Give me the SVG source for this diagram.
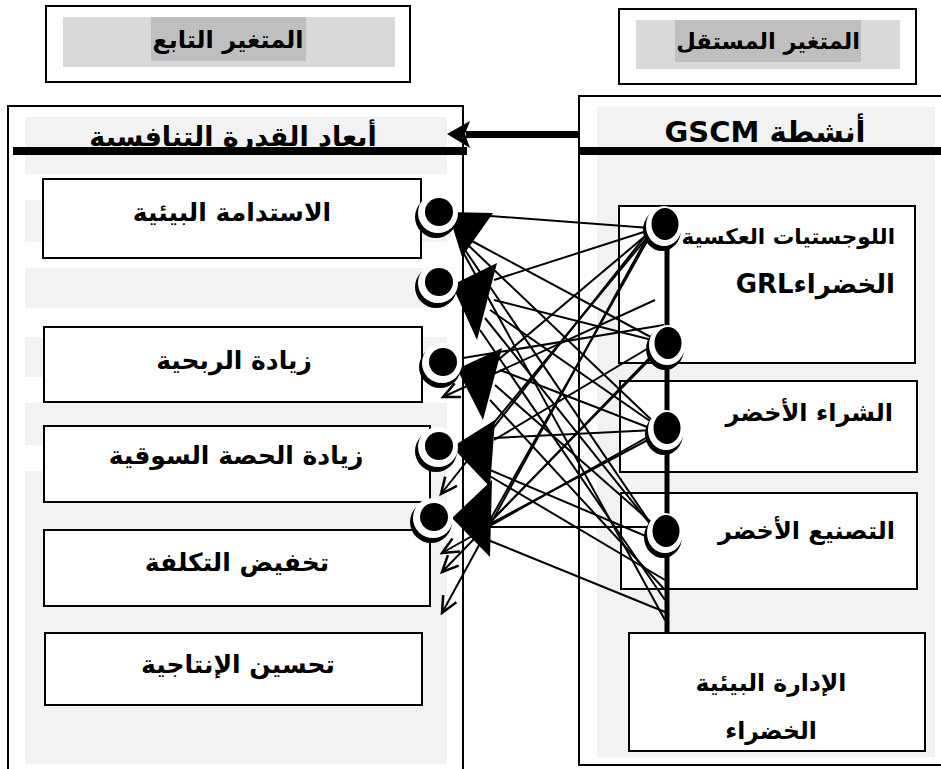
<svg xmlns="http://www.w3.org/2000/svg" xmlns:xlink="http://www.w3.org/1999/xlink" width="941" height="769" viewBox="0 0 941 769">
<style>
.box{fill:#fff;stroke:#000;stroke-width:2}
.band{fill:#f2f2f2}
.hb{fill:#d9d9d9}
.hl{fill:#bfbfbf}
.ar{font-family:"DejaVu Sans",sans-serif;font-weight:bold;fill:#000}
.conn line{stroke:#000;stroke-width:2}
</style>
<defs>
<marker id="open" markerUnits="userSpaceOnUse" markerWidth="20" markerHeight="20" refX="14" refY="7" orient="auto" viewBox="0 0 16 14">
<path d="M1,1 L14,7 L1,13" fill="none" stroke="#000" stroke-width="2"/>
</marker>
<g id="dotL"><circle cx="-2" cy="4" r="21" fill="#000"/><circle cx="0" cy="0" r="20" fill="#fff"/><circle cx="1" cy="-1" r="14" fill="#000"/></g>
<g id="dotR"><ellipse cx="-2" cy="4" rx="19" ry="21" fill="#000"/><ellipse cx="0" cy="0" rx="18" ry="20" fill="#fff"/><ellipse cx="1" cy="-2" rx="13.5" ry="16" fill="#000"/></g>
</defs>

<g id="hdr-dep">
<rect class="box" x="46" y="6" width="364" height="76"/>
<rect class="hb" x="63" y="17" width="332" height="50"/>
<rect class="hl" x="151" y="17" width="155" height="44"/>
<text class="ar" x="228" y="48" font-size="24" text-anchor="middle">المتغير التابع</text>
</g>
<g id="hdr-ind">
<rect class="box" x="619" y="9" width="297" height="75"/>
<rect class="hb" x="636" y="20" width="264" height="49"/>
<rect class="hl" x="675" y="20" width="186" height="42"/>
<text class="ar" x="768" y="49" font-size="22.5" text-anchor="middle">المتغير المستقل</text>
</g>

<g id="dep-panel">
<rect class="box" x="8" y="106" width="455" height="670"/>
<rect class="band" x="25" y="117" width="422" height="57"/>
<rect class="band" x="25" y="200" width="422" height="42"/>
<rect class="band" x="25" y="268" width="422" height="40"/>
<rect class="band" x="25" y="337" width="422" height="40"/>
<rect class="band" x="25" y="403" width="422" height="42"/>
<rect class="band" x="25" y="471" width="422" height="293"/>
<text class="ar" x="233" y="146" font-size="27" text-anchor="middle">أبعاد القدرة التنافسية</text>
<rect x="13" y="147" width="454" height="8" fill="#000"/>
</g>
<g id="ind-panel">
<rect class="box" x="579" y="96" width="400" height="669"/>
<rect class="band" x="597" y="107" width="338" height="650"/>
<text class="ar" x="765" y="142" font-size="29" text-anchor="middle" direction="rtl">أنشطة GSCM</text>
<rect x="580" y="147" width="361" height="8" fill="#000"/>
</g>

<g id="dep1"><rect class="box" x="43" y="179" width="378" height="79"/><text class="ar" x="232" y="221" font-size="25" text-anchor="middle">الاستدامة البيئية</text></g>
<g id="dep2"><rect class="box" x="44" y="327" width="378" height="75"/><text class="ar" x="234" y="369" font-size="25" text-anchor="middle">زيادة الربحية</text></g>
<g id="dep3"><rect class="box" x="44" y="426" width="386" height="76"/><text class="ar" x="236" y="464" font-size="25" text-anchor="middle">زيادة الحصة السوقية</text></g>
<g id="dep4"><rect class="box" x="44" y="530" width="386" height="76"/><text class="ar" x="237" y="571" font-size="25" text-anchor="middle">تخفيض التكلفة</text></g>
<g id="dep5"><rect class="box" x="45" y="633" width="377" height="72"/><text class="ar" x="238" y="673" font-size="25" text-anchor="middle">تحسين الإنتاجية</text></g>

<g id="ind1"><rect class="box" x="619" y="206" width="296" height="157"/><text class="ar" x="895" y="244" font-size="21.5" text-anchor="end">اللوجستيات العكسية</text><text class="ar" x="895" y="293" font-size="26" text-anchor="start" direction="rtl">الخضراءGRL</text></g>
<g id="ind2"><rect class="box" x="620" y="381" width="297" height="91"/><text class="ar" x="893" y="421" font-size="24" text-anchor="end">الشراء الأخضر</text></g>
<g id="ind3"><rect class="box" x="621" y="493" width="296" height="96"/><text class="ar" x="895" y="539" font-size="24" text-anchor="end">التصنيع الأخضر</text></g>
<g id="ind4"><rect class="box" x="629" y="633" width="296" height="118"/><text class="ar" x="771" y="691" font-size="23.5" text-anchor="middle">الإدارة البيئية</text><text class="ar" x="771" y="739" font-size="23.5" text-anchor="middle">الخضراء</text></g>

<g id="connectors" class="conn">
<line x1="580" y1="134.5" x2="466" y2="134.5" style="stroke-width:7"/>
<polygon points="447,134 470,121 465,134 470,148" fill="#000"/>
<line x1="667" y1="240" x2="667" y2="633" style="stroke-width:5"/>
<!-- A1 -->
<line x1="490" y1="216" x2="650" y2="228"/>
<line x1="470" y1="240" x2="660" y2="342"/>
<line x1="468" y1="245" x2="660" y2="428"/>
<line x1="465" y1="250" x2="655" y2="530"/>
<line x1="463" y1="252" x2="665" y2="620"/>
<!-- A2 -->
<line x1="494" y1="280" x2="650" y2="230"/>
<line x1="494" y1="300" x2="660" y2="342"/>
<line x1="490" y1="310" x2="660" y2="428"/>
<line x1="485" y1="318" x2="655" y2="530"/>
<line x1="480" y1="330" x2="665" y2="600"/>
<!-- A3 -->
<line x1="498" y1="360" x2="650" y2="232"/>
<line x1="463" y1="358" x2="664" y2="325"/>
<line x1="500" y1="370" x2="655" y2="430"/>
<line x1="495" y1="385" x2="660" y2="530"/>
<line x1="490" y1="400" x2="665" y2="590"/>
<!-- A4 -->
<line x1="492" y1="425" x2="650" y2="234"/>
<line x1="494" y1="440" x2="662" y2="340"/>
<line x1="494" y1="438" x2="655" y2="430"/>
<line x1="490" y1="470" x2="655" y2="540"/>
<line x1="488" y1="475" x2="665" y2="580"/>
<!-- A5 -->
<line x1="490" y1="520" x2="650" y2="236"/>
<line x1="490" y1="522" x2="664" y2="345"/>
<line x1="490" y1="524" x2="657" y2="435"/>
<line x1="490" y1="527" x2="655" y2="527"/>
<line x1="488" y1="540" x2="665" y2="612"/>
<!-- open-arrow lines -->
<line x1="655" y1="300" x2="443" y2="397" marker-end="url(#open)"/>
<line x1="650" y1="230" x2="441" y2="494" marker-end="url(#open)"/>
<line x1="660" y1="430" x2="442" y2="553" marker-end="url(#open)"/>
<line x1="662" y1="345" x2="442" y2="572" marker-end="url(#open)"/>
<line x1="650" y1="232" x2="442" y2="613" marker-end="url(#open)"/>
<!-- triangles -->
<polygon points="448,212 493,213 462,257" fill="#000"/>
<polygon points="452,285 497,263 477,340" fill="#000"/>
<polygon points="457,369 502,348 483,420" fill="#000"/>
<polygon points="452,447 495,420 490,487" fill="#000"/>
<polygon points="452,518 492,480 490,557" fill="#000"/>
<!-- dots -->
<use xlink:href="#dotL" x="438" y="213"/>
<use xlink:href="#dotL" x="438" y="283"/>
<use xlink:href="#dotL" x="442" y="363"/>
<use xlink:href="#dotL" x="438" y="447"/>
<use xlink:href="#dotL" x="433" y="518"/>
<use xlink:href="#dotR" x="664" y="226"/>
<use xlink:href="#dotR" x="667" y="345"/>
<use xlink:href="#dotR" x="666" y="430"/>
<use xlink:href="#dotR" x="665" y="533"/>
</g>
</svg>
